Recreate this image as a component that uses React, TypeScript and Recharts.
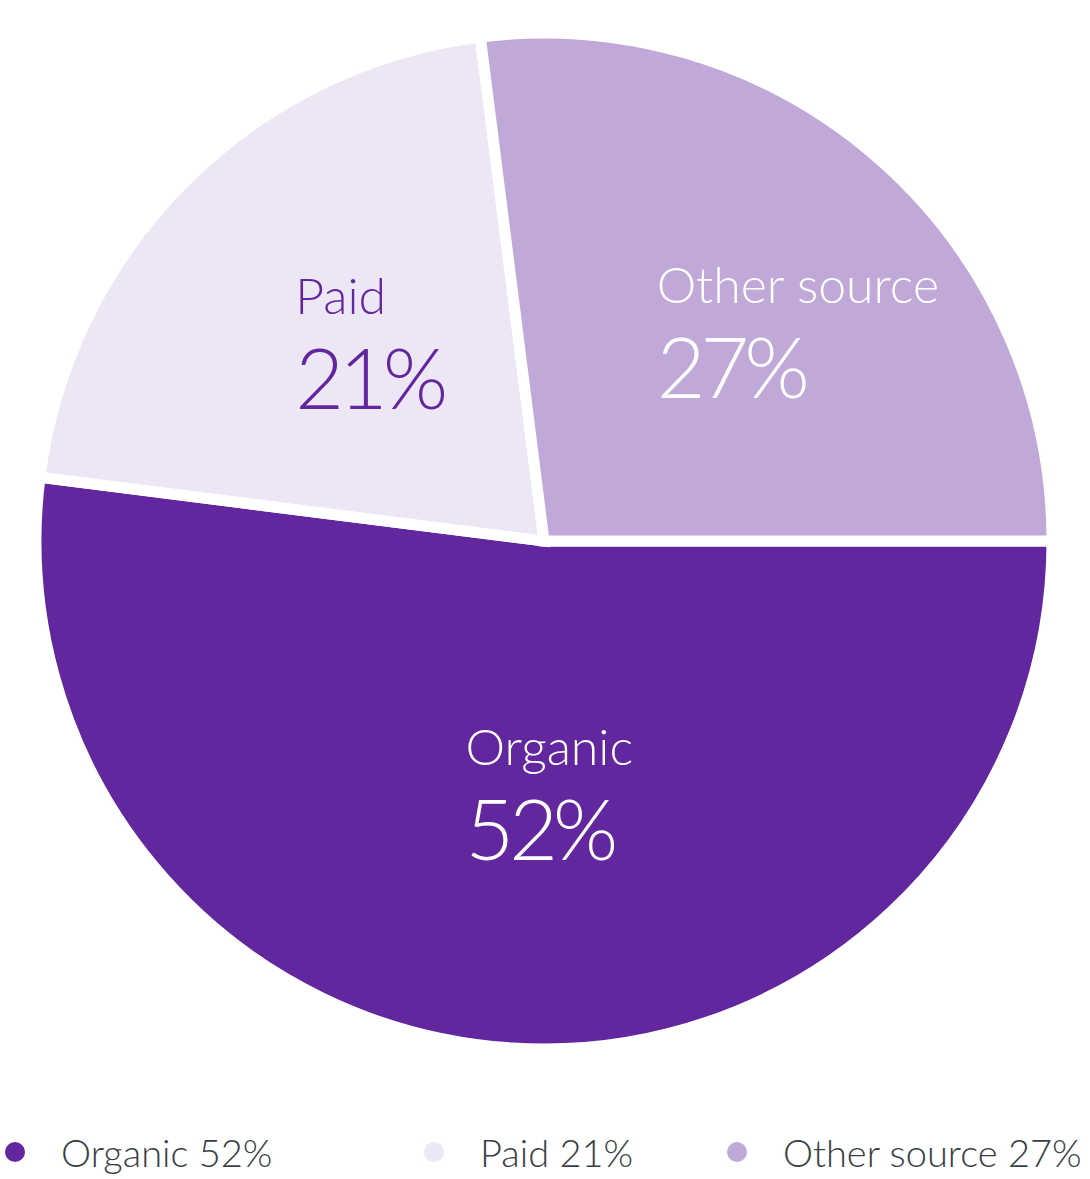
import { Cell, Legend, Pie, PieChart } from 'recharts'

const sources = ['Organic', 'Paid', 'Other source']
const shares = [52, 21, 27]
const sliceColors = ['#62269e', '#ede6f4', '#c0a8d8']
const labelColors = ['#ffffff', '#62269e', '#ffffff']

const FONT = 'Lato, "Noto Sans", sans-serif'
const RADIAN = Math.PI / 180

const data = sources.map((name, index) => ({ name, value: shares[index] }))

// label block: anchored along the slice bisector, lines left-aligned
function SliceLabel(props: any) {
  const { cx, cy, midAngle, outerRadius, index } = props
  const r = outerRadius * 0.52
  const x = cx + r * Math.cos(-midAngle * RADIAN)
  const y = cy + r * Math.sin(-midAngle * RADIAN)
  const left = x - 62
  return (
    <g fill={labelColors[index]} style={{ fontFamily: FONT, fontWeight: 300 }}>
      <text x={left} y={y - 40} fontSize={50}>
        {sources[index]}
      </text>
      <text x={left} y={y + 55} fontSize={84} letterSpacing={-5}>
        {`${shares[index]}%`}
      </text>
    </g>
  )
}

function LegendContent() {
  return (
    <div
      style={{
        display: 'grid',
        gridTemplateColumns: '424px 303px 1fr',
        alignItems: 'center',
        width: 1090,
        fontFamily: FONT,
        fontWeight: 300,
        fontSize: 38,
        color: '#3a3e44',
      }}
    >
      {sources.map((name, index) => (
        <div key={name} style={{ display: 'flex', alignItems: 'center', whiteSpace: 'nowrap' }}>
          <span
            style={{
              width: 20,
              height: 20,
              borderRadius: 10,
              background: sliceColors[index],
              marginLeft: index === 0 ? 5 : 0,
              marginRight: 36,
              flexShrink: 0,
            }}
          />
          <span>{`${name} ${shares[index]}%`}</span>
        </div>
      ))}
    </div>
  )
}

export default function App() {
  return (
    <div style={{ position: 'absolute', left: 0, top: 0, width: 1090, height: 1179, background: '#fff' }}>
      <PieChart width={1090} height={1179} margin={{ top: 0, right: 0, bottom: 0, left: 0 }}>
        <Pie
          data={data}
          dataKey="value"
          nameKey="name"
          cx={544}
          cy={541}
          outerRadius={508}
          startAngle={0}
          endAngle={-360}
          stroke="#ffffff"
          strokeWidth={11}
          label={SliceLabel}
          labelLine={false}
          isAnimationActive={false}
        >
          {data.map((entry, index) => (
            <Cell key={entry.name} fill={sliceColors[index]} />
          ))}
        </Pie>
        <Legend
          verticalAlign="bottom"
          content={<LegendContent />}
          wrapperStyle={{ left: 0, bottom: 4, width: 1090 }}
        />
      </PieChart>
    </div>
  )
}
